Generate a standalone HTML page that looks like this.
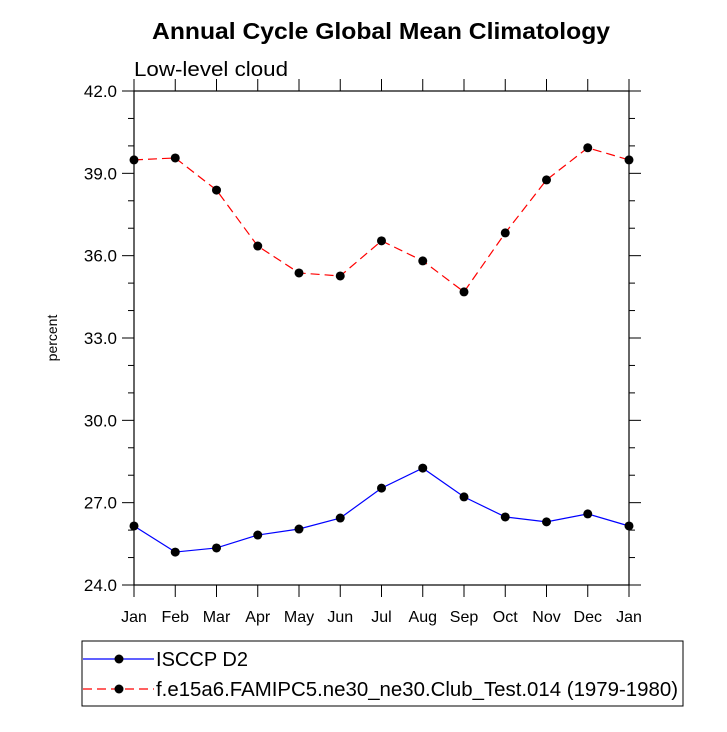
<!DOCTYPE html>
<html><head><meta charset="utf-8"><style>
body{margin:0;background:#fff}
svg text{font-family:"Liberation Sans",sans-serif}
</style></head><body>
<svg id="c" width="727" height="727" xmlns="http://www.w3.org/2000/svg">
<text x="152" y="39" textLength="458" lengthAdjust="spacingAndGlyphs" font-size="23" font-weight="bold">Annual Cycle Global Mean Climatology</text>
<text x="134" y="76" textLength="154" lengthAdjust="spacingAndGlyphs" font-size="20">Low-level cloud</text>
<text transform="translate(57,338) rotate(-90)" text-anchor="middle" font-size="14">percent</text>
<g id="g"></g>
</svg>
<script>
const months=["Jan","Feb","Mar","Apr","May","Jun","Jul","Aug","Sep","Oct","Nov","Dec","Jan"];
const yTicks=[24,27,30,33,36,39,42];
const isccp=[26.15,25.2,25.35,25.82,26.04,26.44,27.53,28.26,27.21,26.48,26.3,26.59,26.15];
const model=[39.49,39.56,38.39,36.35,35.37,35.26,36.54,35.81,34.68,36.83,38.76,39.93,39.49];
const NS="http://www.w3.org/2000/svg";
const L=134,R=629,T=91,B=585,ymin=24,ymax=42;
const X=i=>L+(R-L)*i/12, Y=v=>B-(v-ymin)/(ymax-ymin)*(B-T);
const g=document.getElementById('g');
function mk(t,a){const e=document.createElementNS(NS,t);for(const k in a)e.setAttribute(k,a[k]);g.appendChild(e);return e;}
let r=mk('rect',{x:L,y:T,width:R-L,height:B-T,fill:'none',stroke:'#000','stroke-width':1.2});


months.forEach((m,i)=>{
 const x=X(i);
 let t=mk('line',{x1:x,x2:x,y1:B,y2:B+12,stroke:'#000'});
 
 
 t=mk('line',{x1:x,x2:x,y1:T,y2:T-12,stroke:'#000'});
 
 
 const tx=mk('text',{x:x,y:B+37,'text-anchor':'middle','font-size':16});tx.textContent=m;
 
 
});
for(let v=ymin;v<=ymax;v++){
 const y=Y(v),maj=(v-ymin)%3===0,len=maj?12:6;
 let t=mk('line',{x1:L,x2:L-len,y1:y,y2:y,stroke:'#000'});
 
 
 t=mk('line',{x1:R,x2:R+len,y1:y,y2:y,stroke:'#000'});
 
 
}
yTicks.forEach(v=>{
 const tx=mk('text',{x:L-17,y:Y(v)+6,'text-anchor':'end','font-size':17});tx.textContent=v.toFixed(1);
 
 
});
function series(d,col,dash,name){
 const p=mk('polyline',{points:d.map((v,i)=>X(i)+','+Y(v)).join(' '),fill:'none',stroke:col,'stroke-width':1.2,'stroke-dasharray':dash});
 
 
 d.forEach((v,i)=>{const c=mk('circle',{cx:X(i),cy:Y(v),r:4.5,fill:'#000'});
  
  });
}
series(isccp,'#00f','none','isccp');
series(model,'#f00','9 5','model');
let lb=mk('rect',{x:82,y:641,width:601,height:65,fill:'none',stroke:'#000','stroke-width':1});


[['ISCCP D2','#00f','none',659,92],['f.e15a6.FAMIPC5.ne30_ne30.Club_Test.014 (1979-1980)','#f00','9 5',689,522]].forEach(([lab,col,dash,y,w])=>{
 let l=mk('line',{x1:83,x2:154,y1:y,y2:y,stroke:col,'stroke-dasharray':dash,'stroke-width':1.2});
 
 
 let c=mk('circle',{cx:119,cy:y,r:4.5,fill:'#000'});
 
 
 let t=mk('text',{x:156,y:y+7,'font-size':20,textLength:w,lengthAdjust:'spacingAndGlyphs'});t.textContent=lab;
 
 
});
</script>
</body></html>
